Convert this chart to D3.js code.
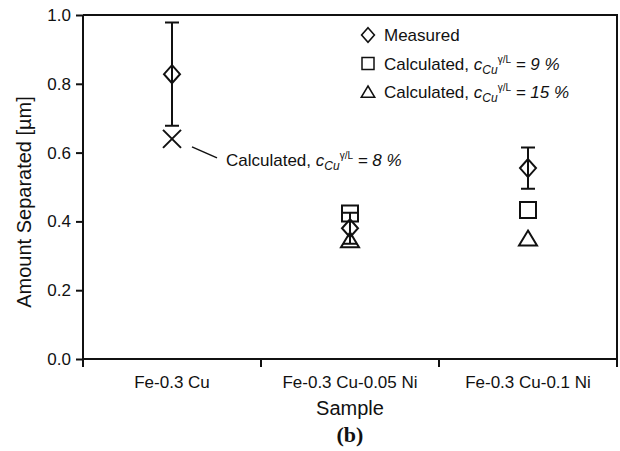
<!DOCTYPE html>
<html>
<head>
  <meta charset="utf8">
  <title>Amount Separated</title>
  <style>
  * { margin: 0; padding: 0; }
  body { background: #fff; }
  text { font-family: "Liberation Sans", Arial, sans-serif; fill: #111; }
  </style>
</head>
<body>
  <script src="https://cdn.jsdelivr.net/npm/d3@7"></script>
  <script>
  // data
  var categories = ["Fe-0.3 Cu", "Fe-0.3 Cu-0.05 Ni", "Fe-0.3 Cu-0.1 Ni"];
  var measured = [0.828, 0.38, 0.555];
  var measuredErr = [0.15, 0.045, 0.06];
  var calc8 = [0.64, null, null];
  var calc9 = [null, 0.423, 0.433];
  var calc15 = [null, 0.345, 0.35];
  var yTicks = [0, 0.2, 0.4, 0.6, 0.8, 1.0];

  var w = 620, h = 451;
  // plot box (note: "top" is reserved on window, so use pad names)
  var padL = 83, padR = 617, padT = 15, padB = 359;

  var svg = d3.select("body").append("svg")
    .attr("width", w)
    .attr("height", h);

  var x = d3.scaleBand().domain(categories).range([padL, padR]);
  var y = d3.scaleLinear().domain([0, 1]).range([padB, padT]);

  // frame: top and right lines
  svg.append("path")
    .attr("d", "M" + padL + "," + padT + "H" + padR + "V" + (padB + 8))
    .attr("fill", "none").attr("stroke", "#111").attr("stroke-width", 2);

  // y axis
  var yAxis = d3.axisLeft(y).tickValues(yTicks).tickFormat(d3.format(".1f")).tickSizeOuter(0).tickSize(7).tickPadding(5);
  var gy = svg.append("g").attr("transform", "translate(" + padL + ",0)").call(yAxis);
  gy.select(".domain").attr("d", "M0," + padT + "V" + (padB + 8));
  gy.selectAll("line, .domain").attr("stroke", "#111").attr("stroke-width", 2);
  gy.selectAll("text").attr("font-size", 17).attr("font-family", "Liberation Sans, Arial, sans-serif").attr("fill", "#111");

  // x axis, ticks at band boundaries
  var gx = svg.append("g").attr("transform", "translate(0," + padB + ")");
  gx.append("line").attr("x1", padL).attr("x2", padR).attr("stroke", "#111").attr("stroke-width", 2);
  gx.selectAll(".tk").data(categories.slice(1)).enter().append("line")
    .attr("x1", function(d) { return x(d); })
    .attr("x2", function(d) { return x(d); })
    .attr("y1", 0).attr("y2", 8)
    .attr("stroke", "#111").attr("stroke-width", 2);
  gx.selectAll(".lab").data(categories).enter().append("text")
    .attr("x", function(d) { return x(d) + x.bandwidth() / 2; })
    .attr("y", 29)
    .attr("text-anchor", "middle")
    .attr("font-size", 17)
    .text(function(d) { return d; });

  // axis titles
  svg.append("text")
    .attr("transform", "translate(31," + ((padT + padB) / 2 + 15) + ") rotate(-90)")
    .attr("text-anchor", "middle")
    .attr("font-size", 20)
    .text("Amount Separated [µm]");
  svg.append("text")
    .attr("x", x(categories[1]) + x.bandwidth() / 2).attr("y", 415)
    .attr("text-anchor", "middle")
    .attr("font-size", 20)
    .text("Sample");
  svg.append("text")
    .attr("x", x(categories[1]) + x.bandwidth() / 2).attr("y", 442)
    .attr("text-anchor", "middle")
    .attr("font-size", 22)
    .attr("font-weight", "bold")
    .style("font-family", "'Liberation Serif', 'Times New Roman', serif")
    .text("(b)");

  // marker shapes
  var shapes = {
    diamond: "M0,-9L8,0L0,9L-8,0Z",
    square: "M-8,-8H8V8H-8Z",
    triangle: "M0,-8L9,7H-9Z",
    cross: "M-9,-9L9,9M9,-9L-9,9"
  };
  function pts(vals) {
    return vals.map(function(v, i) { return { c: categories[i], v: v, e: measuredErr[i] }; })
      .filter(function(d) { return d.v !== null; });
  }
  function cx(d) { return x(d.c) + x.bandwidth() / 2; }

  // error bars for measured
  var eb = svg.append("g").attr("stroke", "#111").attr("stroke-width", 2).attr("fill", "none");
  eb.selectAll("path").data(pts(measured)).enter().append("path")
    .attr("d", function(d) {
      var xc = cx(d), y1 = y(d.v + d.e), y0 = y(d.v - d.e);
      return "M" + xc + "," + y1 + "V" + y0 +
        "M" + (xc - 7) + "," + y1 + "H" + (xc + 7) +
        "M" + (xc - 7) + "," + y0 + "H" + (xc + 7);
    });

  function drawSeries(vals, shape) {
    svg.append("g").selectAll("path").data(pts(vals)).enter().append("path")
      .attr("transform", function(d) { return "translate(" + cx(d) + "," + y(d.v) + ")"; })
      .attr("d", shapes[shape])
      .attr("fill", "none")
      .attr("stroke", "#111")
      .attr("stroke-width", 2);
  }
  drawSeries(calc9, "square");
  drawSeries(calc15, "triangle");
  drawSeries(measured, "diamond");
  drawSeries(calc8, "cross");

  // label with subscript/superscript
  function calcLabel(g, tx, ty, pct) {
    var t = g.append("text").attr("x", tx).attr("y", ty).attr("font-size", 17);
    t.append("tspan").text("Calculated, ");
    t.append("tspan").attr("font-style", "italic").text("c");
    t.append("tspan").attr("font-style", "italic").attr("font-size", 12).attr("dy", 4).text("Cu");
    t.append("tspan").attr("font-size", 10).attr("dy", -11).text("γ/L");
    t.append("tspan").attr("font-style", "italic").attr("dy", 7).text(" = " + pct + " %");
  }

  // annotation for the 8 % point
  var p8 = pts(calc8)[0];
  svg.append("line")
    .attr("x1", cx(p8) + 20).attr("y1", y(p8.v) + 8)
    .attr("x2", cx(p8) + 45).attr("y2", y(p8.v) + 19)
    .attr("stroke", "#111").attr("stroke-width", 1.5);
  calcLabel(svg, cx(p8) + 54, y(p8.v) + 27, 8);

  // legend
  var legend = svg.append("g").attr("transform", "translate(368,35)");
  var items = [["diamond", null], ["square", 9], ["triangle", 15]];
  items.forEach(function(it, i) {
    var g = legend.append("g").attr("transform", "translate(0," + (i * 28.5) + ")");
    g.append("path").attr("d", shapes[it[0]])
      .attr("transform", it[0] === "diamond" ? "scale(0.8)" : "scale(0.75)")
      .attr("fill", "none").attr("stroke", "#111").attr("stroke-width", 2);
    if (it[1] === null) {
      g.append("text").attr("x", 16).attr("y", 6).attr("font-size", 17).text("Measured");
    } else {
      calcLabel(g, 16, 6, it[1]);
    }
  });
  </script>
</body>
</html>
